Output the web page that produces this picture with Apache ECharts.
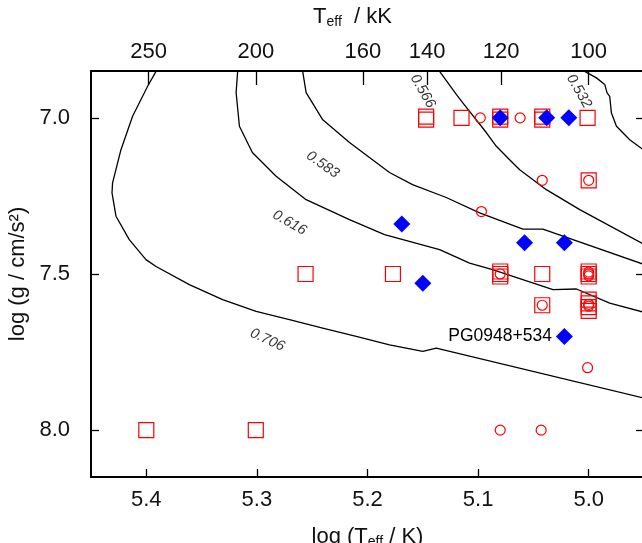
<!DOCTYPE html>
<html>
<head>
<meta charset="utf-8">
<script src="https://cdn.jsdelivr.net/npm/echarts@6/dist/echarts.min.js"></script>
<style>
html, body { margin: 0; padding: 0; background: #fff; }
#chart { width: 642px; height: 543px; }
</style>
</head>
<body>
<div id="chart"></div>
<script>
// positions are [log Teff, log g]
var squares = [
  [5.147, 6.996], [5.147, 7.006], [5.115, 7.0], [5.080, 6.996], [5.080, 7.006],
  [5.042, 6.996], [5.042, 7.006], [5.001, 7.0], [5.0, 7.2],
  [5.256, 7.5], [5.177, 7.5], [5.080, 7.492], [5.080, 7.5], [5.080, 7.508],
  [5.042, 7.5], [5.0, 7.492], [5.0, 7.5], [5.0, 7.508],
  [5.042, 7.6], [5.0, 7.582], [5.0, 7.594], [5.0, 7.606], [5.0, 7.618],
  [5.400, 8.0], [5.301, 8.0]
];
var circles = [
  [5.098, 7.0], [5.062, 7.0], [5.042, 7.2], [5.0, 7.2], [5.097, 7.3],
  [5.080, 7.5], [5.0, 7.494], [5.0, 7.5], [5.0, 7.506],
  [5.042, 7.6], [5.0, 7.597], [5.0, 7.603], [5.001, 7.8],
  [5.080, 8.0], [5.043, 8.0]
];
var diamonds = [
  [5.080, 7.0], [5.038, 7.0], [5.018, 7.0], [5.169, 7.34],
  [5.058, 7.40], [5.022, 7.40], [5.150, 7.53], [5.022, 7.70]
];
var namedStar = 'PG0948+534';
var namedStarIdx = 7;

var xTicks = [5.0, 5.1, 5.2, 5.3, 5.4];
var yTicks = [7.0, 7.5, 8.0];
var topTicksKK = [250, 200, 160, 140, 120, 100];

// contour lines
var c706 = [
  [5.386, 6.83], [5.3912, 6.851], [5.3988, 6.899], [5.4124, 6.995], [5.4229, 7.102],
  [5.4305, 7.208], [5.4310, 7.240], [5.4274, 7.315], [5.4154, 7.390], [5.4003, 7.454],
  [5.3912, 7.476], [5.3611, 7.534], [5.3310, 7.582], [5.3007, 7.620], [5.2706, 7.646],
  [5.2405, 7.673], [5.2102, 7.700], [5.1801, 7.727], [5.1500, 7.748], [5.1378, 7.737],
  [4.94, 7.906]
];
var c616 = [
  [5.3172, 6.83], [5.3174, 6.851], [5.3188, 6.919], [5.3158, 7.027], [5.3041, 7.111],
  [5.2826, 7.187], [5.2555, 7.262], [5.2163, 7.326], [5.1846, 7.374], [5.1348, 7.422],
  [5.1077, 7.465], [5.0869, 7.486], [5.0323, 7.550], [5.0111, 7.548], [4.981, 7.593],
  [4.94, 7.632]
];
var c583 = [
  [5.2590, 6.83], [5.2586, 6.851], [5.2555, 6.919], [5.2407, 7.005], [5.2163, 7.079],
  [5.1801, 7.175], [5.1593, 7.214], [5.1288, 7.255], [5.0986, 7.304], [5.0595, 7.356],
  [5.0414, 7.356], [4.94, 7.482]
];
var c566 = [
  [5.1365, 6.83], [5.1348, 6.851], [5.1197, 6.925], [5.1140, 6.951], [5.0926, 7.047],
  [5.0835, 7.091], [5.0715, 7.134], [5.0624, 7.166], [5.0383, 7.230], [5.0081, 7.294],
  [4.94, 7.424]
];
var c532 = [
  [5.008, 6.84], [5.0036, 6.851], [4.9930, 6.872], [4.9855, 6.893], [4.9834, 6.920],
  [4.981, 6.931], [4.9795, 6.984], [4.9749, 7.027], [4.9629, 7.070], [4.94, 7.13]
];
var contourLines = [c706, c616, c583, c566, c532];
var contourNames = ['0.706', '0.616', '0.583', '0.566', '0.532'];
var contourLabelPos = [[5.2906, 7.711], [5.2706, 7.336], [5.2405, 7.150], [5.150, 6.915], [5.0088, 6.915]];
var contourLabelRot = [-25, -30, -35, -60, -60];

var FONT = 'Liberation Sans, Arial, sans-serif';
var chart = echarts.init(document.getElementById('chart'), null, { renderer: 'canvas' });

var series = [];
contourLines.forEach(function (pts, i) {
  series.push({
    type: 'line', name: contourNames[i], data: pts,
    showSymbol: false, silent: true, smooth: false,
    lineStyle: { color: '#000', width: 1.3 },
    z: 1
  });
});
series.push({
  type: 'scatter', data: squares, symbol: 'rect', symbolSize: 15, silent: true,
  itemStyle: { color: 'rgba(0,0,0,0)', borderColor: '#ff0000', borderWidth: 1.2, opacity: 1 },
  z: 2
});
series.push({
  type: 'scatter', data: circles, symbol: 'circle', symbolSize: 10, silent: true,
  itemStyle: { color: 'rgba(0,0,0,0)', borderColor: '#ff0000', borderWidth: 1.2, opacity: 1 },
  z: 3
});
series.push({
  type: 'scatter', symbol: 'diamond', symbolSize: 17, silent: true,
  itemStyle: { color: '#0000ff', opacity: 1 },
  data: diamonds.map(function (p, i) {
    if (i !== namedStarIdx) return p;
    return {
      value: p,
      label: {
        show: true, position: 'left', distance: 4, formatter: namedStar,
        fontFamily: FONT, fontSize: 17.5, color: '#000'
      }
    };
  }),
  z: 4
});
series.push({
  type: 'scatter', symbolSize: 1, silent: true,
  itemStyle: { color: 'rgba(0,0,0,0)' },
  label: {
    show: true, position: 'inside', formatter: '{b}',
    fontFamily: FONT, fontStyle: 'italic', fontSize: 14.5, color: '#000'
  },
  data: contourNames.map(function (n, i) {
    return { name: n, value: contourLabelPos[i], label: { rotate: contourLabelRot[i] } };
  }),
  z: 5
});

var axisLine = { show: true, lineStyle: { color: '#000', width: 2 } };
var labelFont = { fontFamily: FONT, fontSize: 22, color: '#111' };

chart.setOption({
  animation: false,
  grid: { left: 91, right: -2, top: 71, bottom: 66, outerBoundsMode: 'none' },
  xAxis: [{
    type: 'value', min: 4.95, max: 5.45, inverse: true, position: 'bottom',
    axisLine: axisLine, splitLine: { show: false },
    axisTick: { inside: true, length: 8, customValues: xTicks, lineStyle: { color: '#000', width: 1.3 } },
    axisLabel: Object.assign({ margin: 12, customValues: xTicks, formatter: function (v) { return v.toFixed(1); } }, labelFont),
    name: 'log (T{sub|eff} / K)', nameLocation: 'middle', nameGap: 48,
    nameTextStyle: {
      fontFamily: FONT, fontSize: 22, color: '#111',
      rich: { sub: { fontFamily: FONT, fontSize: 14, color: '#111', padding: [10, 0, 0, 0] } }
    }
  }, {
    type: 'value', min: 4.95, max: 5.45, inverse: true, position: 'top',
    axisLine: axisLine, splitLine: { show: false },
    axisTick: {
      inside: true, length: 14, lineStyle: { color: '#000', width: 1.3 },
      customValues: topTicksKK.map(function (t) { return Math.log10(t * 1000); })
    },
    axisLabel: Object.assign({
      margin: 8,
      customValues: topTicksKK.map(function (t) { return Math.log10(t * 1000); }),
      formatter: function (v) { return String(Math.round(Math.pow(10, v) / 1000)); }
    }, labelFont),
    name: 'T{sub|eff}  / kK', nameLocation: 'middle', nameGap: 42,
    nameTextStyle: {
      fontFamily: FONT, fontSize: 22, color: '#111', padding: [0, 30, 0, 0],
      rich: { sub: { fontFamily: FONT, fontSize: 14, color: '#111', padding: [10, 0, 0, 0] } }
    }
  }],
  yAxis: [{
    type: 'value', min: 6.85, max: 8.15, inverse: true, position: 'left',
    axisLine: axisLine, splitLine: { show: false },
    axisTick: { inside: true, length: 8, customValues: yTicks, lineStyle: { color: '#000', width: 1.3 } },
    axisLabel: Object.assign({ margin: 21, customValues: yTicks, formatter: function (v) { return v.toFixed(1); } }, labelFont),
    name: 'log (g / cm/s²)', nameLocation: 'middle', nameGap: 56, nameRotate: 90,
    nameTextStyle: { fontFamily: FONT, fontSize: 22, color: '#111' }
  }, {
    type: 'value', min: 6.85, max: 8.15, inverse: true, position: 'right',
    axisLine: axisLine, splitLine: { show: false },
    axisTick: { inside: true, length: 8, customValues: yTicks, lineStyle: { color: '#000', width: 1.3 } },
    axisLabel: { show: false }
  }],
  series: series
});
</script>
</body>
</html>
